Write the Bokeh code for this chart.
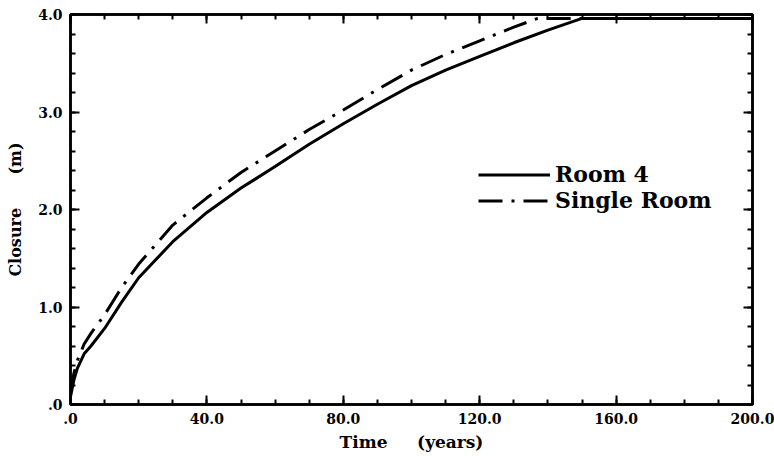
from bokeh.plotting import figure
from bokeh.models import (LinearAxis, FixedTicker, CustomJSTickFormatter, Legend, LegendItem, Range1d)
from bokeh.embed import file_html
from bokeh.resources import INLINE

# ---- data ----
room4_t = [0, 1, 2, 4, 6, 10, 15, 20, 30, 40, 50, 60, 70, 80, 90, 100, 110, 120, 130, 140, 150, 160, 180, 200]
room4_v = [0.08, 0.25, 0.37, 0.52, 0.60, 0.78, 1.05, 1.30, 1.67, 1.97, 2.22, 2.44, 2.67, 2.88, 3.08, 3.27,
           3.43, 3.57, 3.71, 3.84, 3.96, 3.96, 3.96, 3.96]
single_t = [0, 1, 2, 4, 6, 10, 15, 20, 30, 40, 50, 60, 70, 80, 90, 100, 110, 120, 130, 137, 140, 160, 180, 200]
single_v = [0.12, 0.32, 0.45, 0.62, 0.73, 0.92, 1.20, 1.44, 1.84, 2.12, 2.38, 2.60, 2.82, 3.02, 3.23, 3.43,
            3.59, 3.73, 3.87, 3.96, 3.96, 3.96, 3.96, 3.96]

x_ticks = [0, 40, 80, 120, 160, 200]
x_minor = list(range(0, 201, 10))
y_ticks = [0, 1, 2, 3, 4]
y_minor = [i / 5 for i in range(0, 21)]
x_labels = {0: ".0", 40: "40.0", 80: "80.0", 120: "120.0", 160: "160.0", 200: "200.0"}
y_labels = {0: ".0", 1: "1.0", 2: "2.0", 3: "3.0", 4: "4.0"}

FONT = "DejaVu Serif"
NB = "\u00a0"

p = figure(width=774, height=456, output_backend="svg", toolbar_location=None,
           x_range=Range1d(0, 200), y_range=Range1d(0, 4),
           x_axis_type=None, y_axis_type=None,
           min_border_left=70, min_border_right=22, min_border_top=14, min_border_bottom=52)
p.grid.visible = False
p.outline_line_color = "black"
p.outline_line_width = 2.5
p.background_fill_color = "white"
p.border_fill_color = "white"

def fmt(d):
    js = "const m = " + str({str(k): v for k, v in d.items()}).replace("'", '"') + "; const k = String(Math.round(tick)); return (k in m) ? m[k] : '';"
    return CustomJSTickFormatter(code=js)

def style_axis(ax, ticks, minor, labels, show_labels):
    ax.ticker = FixedTicker(ticks=ticks, minor_ticks=minor)
    ax.axis_line_color = "black"
    ax.axis_line_width = 2.5
    ax.major_tick_in = 9
    ax.major_tick_out = 0
    ax.minor_tick_in = 5
    ax.minor_tick_out = 0
    ax.major_tick_line_width = 2
    ax.minor_tick_line_width = 2
    ax.major_tick_line_color = "black"
    ax.minor_tick_line_color = "black"
    if show_labels:
        ax.formatter = fmt(labels)
        ax.major_label_text_font = FONT
        ax.major_label_text_font_style = "bold"
        ax.major_label_text_font_size = "14px"
        ax.major_label_text_color = "black"
    else:
        ax.major_label_text_font_size = "0px"
        ax.major_label_standoff = 0
        ax.formatter = CustomJSTickFormatter(code="return ''")

xb = LinearAxis(axis_label="Time" + NB * 5 + "(years)")
style_axis(xb, x_ticks, x_minor, x_labels, True)
xb.major_label_standoff = 8
xb.axis_label_standoff = 5
xb.axis_label_text_font = FONT
xb.axis_label_text_font_style = "bold"
xb.axis_label_text_font_size = "17px"
xb.axis_label_text_color = "black"
p.add_layout(xb, "below")

yl = LinearAxis(axis_label="Closure" + NB * 6 + "(m)")
style_axis(yl, y_ticks, y_minor, y_labels, True)
yl.major_label_standoff = 8
yl.axis_label_standoff = 10
yl.axis_label_text_font = FONT
yl.axis_label_text_font_style = "bold"
yl.axis_label_text_font_size = "16px"
yl.axis_label_text_color = "black"
p.add_layout(yl, "left")

xt = LinearAxis()
style_axis(xt, x_ticks, x_minor, x_labels, False)
p.add_layout(xt, "above")
yr = LinearAxis()
style_axis(yr, y_ticks, y_minor, y_labels, False)
p.add_layout(yr, "right")

r1 = p.line(room4_t, room4_v, line_color="black", line_width=3)
r2 = p.line(single_t, single_v, line_color="black", line_width=3, line_dash="24 9 3 9")

legend = Legend(items=[LegendItem(label="Room 4", renderers=[r1]),
                       LegendItem(label="Single Room", renderers=[r2])],
                location=(408, 191))
legend.background_fill_alpha = 0
legend.border_line_alpha = 0
legend.glyph_width = 72
legend.glyph_height = 25
legend.label_height = 25
legend.label_standoff = 5
legend.spacing = 0
legend.padding = 0
legend.margin = 0
legend.label_text_font = FONT
legend.label_text_font_style = "bold"
legend.label_text_font_size = "22px"
legend.label_text_color = "black"
p.add_layout(legend, "center")

open("out.html", "w").write(file_html(p, INLINE))
